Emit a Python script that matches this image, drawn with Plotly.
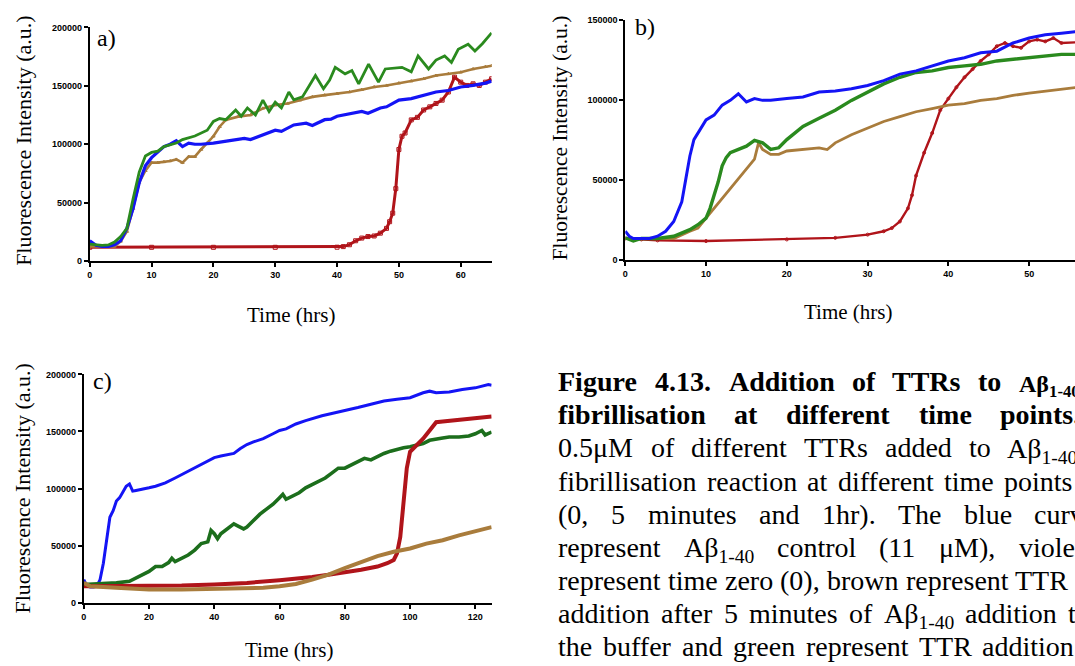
import re
import plotly.graph_objects as go

W, H = 1075, 666

# ---------------- data ----------------
# Panel a
a_blue_t = [0,1,2,3,4,5,6,7,8,9,10,11,12,13,14,15,16,17,18,20,22,25,26,28,30,31,33,35,36,38,39,40,41,42,44,45,46,47,48,49,50,52,54,56,58,60,62,64,65]
a_blue_y = [17400,13500,12600,12600,14000,17400,28000,45000,67000,81500,88500,93000,98000,100000,103000,98000,101000,100000,100000,
            101000,102500,105000,104000,108000,112000,111000,116500,118000,116000,121000,121500,124000,125000,126500,128000,126500,128700,131000,132000,135000,137700,139000,142000,144700,146000,149000,150300,152300,154000]
a_green_t = [0,2,3,4,5,6,7,8,9,10,11,12,14,15,17,19,20,21,22,23.6,24.5,25.5,26.8,28,29,30,31,32.2,33,34.4,35.5,36.5,37.8,38.8,39.7,41.3,42.4,43.5,45.1,46.7,47.8,49,50.5,52,53.1,54.8,56,57.4,58.5,59.6,61.2,62.3,63.5,65]
a_green_y = [14600,13500,13800,16300,21000,28000,53000,76000,90000,93000,94000,98000,
             101000,104000,107000,112000,119500,122000,121000,
             129300,124000,131000,125000,137700,128000,136000,131000,144700,138000,
             140500,150000,158800,147500,155000,165800,160200,163000,151700,168600,
             153100,164400,165000,165800,162000,175600,164400,172000,175600,170000,
             181200,185500,179800,186000,195300]
a_brown_t = [0,4,5,6,7,8,9,10,11,12,13,14,15,16,17,18,19,20,21,22,24,26,28,30,32,34,36,38,40,42,44,46,48,50,52,54,56,58,60,62,64,65]
a_brown_y = [12600,12600,16900,25300,45000,67400,77300,84300,84300,84900,85700,87000,84300,89400,89400,95500,101000,106800,115000,120800,
             123600,125000,130700,133500,134900,137700,140500,142000,143300,144700,146700,149000,150300,152300,154000,156000,158800,160200,161600,164400,166400,167200]
a_red_t = [0,10,20,30,40,41,42,43,44,45,46,47,48,48.5,49,49.5,50,50.5,51,52,53,54,55,56,57,58,59,60,61,62,63,64,65]
a_red_y = [11800,11800,11800,11800,11900,12400,14000,17400,19700,21000,21500,23900,28000,33700,41000,62000,95500,106800,109600,
           120800,123000,129300,132000,134900,137700,144700,157400,153100,150300,151700,150300,153100,156000]

# Panel b
b_blue_t = [0,0.5,1,2,3,4,5,6,7,7.5,8,8.5,9,10,11,12,13,14,15,16,17,18,20,22,24,26,28,30,32,34,36,38,40,42,44,46,48,50,52,54,56]
b_blue_y = [18000,14900,13500,13500,13500,14900,18000,24100,36400,50700,65000,75200,79300,
            87500,90500,96700,99700,103800,98700,100800,99700,99700,
            100800,101800,104900,105500,106900,109000,112000,116100,118100,121200,124300,126300,129400,130400,135500,138600,140600,141600,142700]
b_green_t = [0,1,2,4,6,7,8,9,10,10.5,11,11.5,12,12.5,13,14,15,16,17,18,19,20,21,22,24,26,28,30,32,34,36,38,40,42,44,46,48,50,52,54,56]
b_green_y = [13900,11900,13500,13500,14900,17000,19000,22100,26200,32300,40500,48700,58900,64000,67000,
             69100,71100,74800,73200,69100,70100,75200,79300,83400,
             88500,93600,99700,104900,110000,114100,117100,118100,120200,121200,122200,124300,125300,126300,127300,128400,128400]
b_brown_t = [0,6,8,9,10,11,12,13,14,15,16,16.5,17,18,19,20,22,24,25,26,28,30,32,34,36,38,40,42,44,46,48,50,52,54,56]
b_brown_y = [13500,13500,18000,20000,26200,32300,38400,44600,50700,56800,63000,73200,69100,66000,66000,68100,
             69100,70100,69000,73200,78300,82400,86500,89500,92600,94600,96700,97700,99700,100800,102800,104200,105500,106900,107900]
b_red_t = [0,2,4,10,20,26,30,32,33,34,35,35.5,36,37,38,39,40,41,42,43,44,45,46,47,48,49,50,51,52,53,54,56]
b_red_y = [13500,12900,12300,11900,12900,13900,15900,18000,20000,24100,32300,40500,52700,67000,79300,93600,100800,
           107900,114100,119200,124300,128400,133500,135500,133500,132500,136500,137600,136500,138600,135500,136000]

# Panel c
c_blue_t = [0,1,2,3,4,5,6,7,8,9,10,11,12,13,14,15,16,18,20,22,25,28,30,32,35,38,40,42,44,46,48,50,52,55,58,60,62,65,68,70,73,76,80,84,88,92,96,100,104,106,108,112,116,120,124,125]
c_blue_y = [20400,14600,13800,13800,14600,20400,34700,54800,74900,80600,89200,92100,97800,102100,104100,97800,98400,
            99300,100700,102100,105000,109300,112200,115000,119300,123600,127100,
            128500,129400,130800,135100,138600,140900,143700,148000,150900,152300,
            156600,159500,161500,163800,165800,168100,171000,173900,176700,178200,
            179600,183900,185300,183900,184500,186800,188200,191100,190500]
c_green_t = [0,5,10,14,16,18,20,22,24,26,27,28,30,32,34,36,38,39,40,41,42,44,46,47,49,50,52,54,56,58,60,61,62,64,66,68,70,72,74,76,78,80,82,84,86,88,90,92,94,96,98,100,102,104,106,108,110,112,115,118,120,122,123,125]
c_green_y = [16100,16600,17500,18900,21800,24700,27500,31800,31800,35300,
             39000,36100,39000,41900,46200,51900,53400,63400,60500,56200,
             60500,64800,69100,67700,64800,66300,72000,77700,82100,86400,
             92100,95000,90700,93500,96400,100700,103600,106400,109300,113600,
             117900,117900,120800,123600,126500,125100,128000,130800,132800,134600,
             135700,136600,138000,139400,142300,143700,144300,145200,145200,146000,
             148000,150900,147000,149500]
c_red_t = [0,5,10,20,30,40,50,60,65,70,75,80,85,90,93,95,96,97,98,99,100,101,102,104,106,107,108,110,112,115,118,120,122,125]
c_red_y = [14600,14600,14600,14600,15200,16100,17500,19800,20900,22700,
           24700,26700,29000,31800,34700,37600,43300,57700,86400,117900,
           132300,135100,138000,143700,150900,155200,158100,158700,159200,160100,
           161000,161800,162400,163200]
c_brown_t = [0,2,10,20,30,40,50,55,60,65,70,75,80,85,90,95,100,105,110,115,120,125]
c_brown_y = [17500,14600,13200,11800,11800,12300,12600,13200,14600,16600,20400,24700,30400,36100,41000,44800,47600,51900,54800,59100,62800,66300]

x_ticks_a = [0,10,20,30,40,50,60]
x_ticks_b = [0,10,20,30,40,50,60]
x_ticks_c = [0,20,40,60,80,100,120]
y_ticks_ac = [0,50000,100000,150000,200000]
y_ticks_b = [0,50000,100000,150000]

panel_labels = ["a)", "b)", "c)"]
x_title = "Time (hrs)"
y_title = "Fluorescence Intensity (a.u.)"

caption_lines = [
    ["<b>Figure</b>", "<b>4.13.</b>", "<b>Addition</b>", "<b>of</b>", "<b>TTRs</b>", "<b>to</b>", "<b>Aβ<sub>1-40</sub></b>"],
    ["<b>fibrillisation</b>", "<b>at</b>", "<b>different</b>", "<b>time</b>", "<b>points.</b>"],
    ["0.5μM", "of", "different", "TTRs", "added", "to", "Aβ<sub>1-40</sub>"],
    ["fibrillisation", "reaction", "at", "different", "time", "points"],
    ["(0,", "5", "minutes", "and", "1hr).", "The", "blue", "curves"],
    ["represent", "Aβ<sub>1-40</sub>", "control", "(11", "μM),", "violet"],
    ["represent", "time", "zero", "(0),", "brown", "represent", "TTR"],
    ["addition", "after", "5", "minutes", "of", "Aβ<sub>1-40</sub>", "addition", "to"],
    ["the", "buffer", "and", "green", "represent", "TTR", "addition"],
]

# ---------------- layout constants (pixels) ----------------
cap_left = 555
last_word_x = [1017, 998, 1005, 1002, 1032, 1017, 1013, 1066, 980]  # start of last (cut) word of each justified line
baseline0 = 392
line_gap = 33.6
cap_size = 28

SERIF = "Liberation Serif"
SANS = "Liberation Sans"

C_BLUE = "#1414f5"
C_GREEN = "#2a8a1e"
C_GREEN_C = "#1c6e1c"
C_BROWN = "#a97c3c"
C_RED = "#b0141a"

# Times (Liberation Serif) advance widths, per 1000 em
REG = {' ':250,'(':333,')':333,',':250,'-':333,'.':250,':':278,
       'A':722,'F':556,'M':889,'R':667,'T':611,'I':333,
       'a':444,'b':500,'c':444,'d':500,'e':444,'f':333,'g':500,'h':500,'i':278,'l':278,'m':778,
       'n':500,'o':500,'p':500,'r':333,'s':389,'t':278,'u':500,'v':500,'w':722,'y':500,'z':444,
       'β':500,'μ':576}
BOLD = {' ':250,'(':333,')':333,',':250,'-':333,'.':250,
        'A':722,'F':611,'M':944,'R':722,'T':667,
        'a':500,'b':556,'c':444,'d':556,'e':444,'f':333,'g':500,'h':556,'i':278,'l':278,'m':833,
        'n':556,'o':500,'p':556,'r':444,'s':389,'t':333,'u':556,'β':556}
for d in '0123456789':
    REG[d] = 500
    BOLD[d] = 500

def word_width(w, size):
    bold = '<b>' in w
    tab = BOLD if bold else REG
    s = w.replace('<b>', '').replace('</b>', '')
    total = 0.0
    for part in re.split(r'(<sub>.*?</sub>)', s):
        if part.startswith('<sub>'):
            total += 0.7 * sum(tab.get(c, 500) for c in part[5:-6])
        else:
            total += sum(tab.get(c, 500) for c in part)
    return total * size / 1000.0

def px_x(p):
    return p / W

def px_y(p):
    return 1 - p / H

fig = go.Figure()

def add(t, y, color, xa, ya, width=3.2, symbol=None, msize=0):
    mode = "lines" if symbol is None else "lines+markers"
    kw = dict(x=t, y=y, mode=mode, xaxis=xa, yaxis=ya, showlegend=False,
              line=dict(color=color, width=width), hoverinfo="skip")
    if symbol is not None:
        kw["marker"] = dict(symbol=symbol, size=msize, color=color, line=dict(color=color, width=1))
    fig.add_trace(go.Scatter(**kw))

# panel a
add(a_red_t, a_red_y, C_RED, "x", "y", width=3, symbol="square-open", msize=4)
add(a_brown_t, a_brown_y, C_BROWN, "x", "y", width=2.6, symbol="triangle-up", msize=3)
add(a_blue_t, a_blue_y, C_BLUE, "x", "y", width=3.2)
add(a_green_t, a_green_y, C_GREEN, "x", "y", width=2.8)
# panel b
add(b_red_t, b_red_y, C_RED, "x2", "y2", width=2.4, symbol="circle-open", msize=3)
add(b_brown_t, b_brown_y, C_BROWN, "x2", "y2", width=2.8)
add(b_green_t, b_green_y, C_GREEN, "x2", "y2", width=3.4)
add(b_blue_t, b_blue_y, C_BLUE, "x2", "y2", width=3.0)
# panel c
add(c_blue_t, c_blue_y, C_BLUE, "x3", "y3", width=3.0)
add(c_green_t, c_green_y, C_GREEN_C, "x3", "y3", width=3.6)
add(c_red_t, c_red_y, C_RED, "x3", "y3", width=4.0)
add(c_brown_t, c_brown_y, C_BROWN, "x3", "y3", width=4.0)

axis_common = dict(showgrid=False, zeroline=False, showline=True, linecolor="black", linewidth=2,
                   ticks="outside", ticklen=4, tickwidth=1.5, tickcolor="black",
                   tickfont=dict(family=SANS, size=9, color="black", weight="bold"),
                   fixedrange=True)

fig.update_layout(
    width=W, height=H,
    margin=dict(l=0, r=0, t=0, b=0),
    paper_bgcolor="white", plot_bgcolor="white",
    xaxis=dict(domain=[px_x(87), px_x(490)], range=[0, 65], tickvals=x_ticks_a, anchor="y", **axis_common),
    yaxis=dict(domain=[px_y(260), px_y(22.7)], range=[0, 200000], tickvals=y_ticks_ac, tickformat="d", anchor="x", **axis_common),
    xaxis2=dict(domain=[px_x(624), 1.0], range=[0, (W - 624) / 8.1], tickvals=x_ticks_b, anchor="y2", **axis_common),
    yaxis2=dict(domain=[px_y(259), px_y(15)], range=[0, 150000], tickvals=y_ticks_b, tickformat="d", anchor="x2", **axis_common),
    xaxis3=dict(domain=[px_x(81), px_x(490)], range=[0, 125], tickvals=x_ticks_c, anchor="y3", **axis_common),
    yaxis3=dict(domain=[px_y(607), px_y(375)], range=[0, 200000], tickvals=y_ticks_ac, tickformat="d", anchor="x3", **axis_common),
)

ann = []
def text(s, x, y, size, family=SERIF, angle=0, xanchor="center"):
    ann.append(dict(text=s, x=px_x(x), y=px_y(y), xref="paper", yref="paper", showarrow=False,
                    xanchor=xanchor, yanchor="middle", textangle=angle,
                    font=dict(family=family, size=size, color="black")))

# axis titles
text(x_title, 289, 315, 21)
text(x_title, 847, 312, 21)
text(x_title, 287, 655, 21)
text(y_title, 21, 138, 22, angle=-90)
text(y_title, 559, 135, 21.5, angle=-90)
text(y_title, 20, 491, 22, angle=-90)
# panel labels
text(panel_labels[0], 92, 33, 24, xanchor="left")
text(panel_labels[1], 632, 22, 24, xanchor="left")
text(panel_labels[2], 88, 382, 24, xanchor="left")

# caption: justified lines (equal gaps between words, last word starting where it does in the picture)
for i, (words, x_end) in enumerate(zip(caption_lines, last_word_x)):
    base = baseline0 + i * line_gap
    sizes = [24 if (i == 0 and "sub" in w) else cap_size for w in words]
    widths = [word_width(w, s) for w, s in zip(words, sizes)]
    gap = (x_end - cap_left - sum(widths[:-1])) / (len(words) - 1)
    x = cap_left
    for w, s, wd in zip(words, sizes, widths):
        yc = base - 0.34 * s
        if "sub" in w:
            yc += 2.5
        text(w, x, yc, s, xanchor="left")
        x += wd + gap

fig.update_layout(annotations=ann)
fig.write_html("out.html")
